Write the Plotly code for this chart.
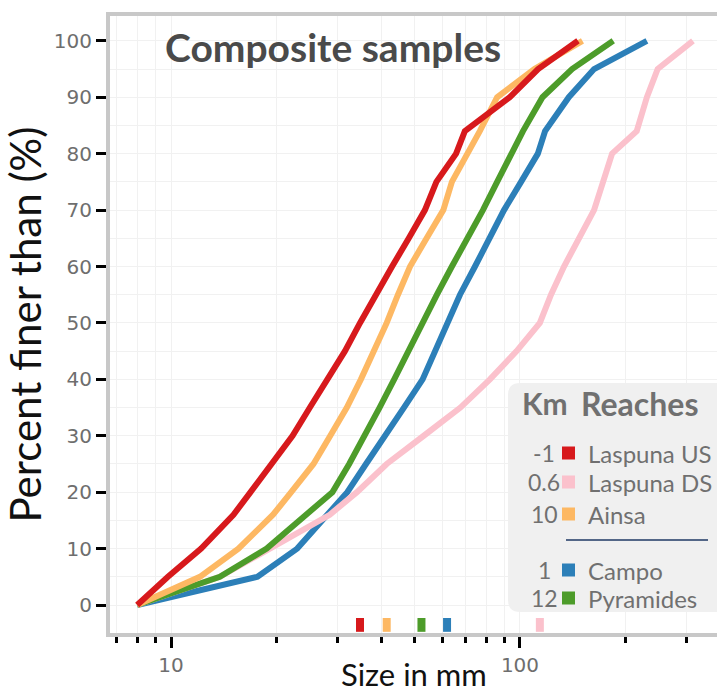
import plotly.graph_objects as go

# Cumulative grain-size curves (percent finer than) for the composite samples
percent = [0, 5, 10, 16, 20, 25, 30, 35, 40, 45, 50, 55, 60, 65, 70, 75, 80, 84, 90, 95, 100]

laspuna_us = [8, 9.8, 12.2, 15.1, 16.9, 19.4, 22.3, 25.0, 28.2, 31.5, 34.8, 38.5, 43.0,
              48.0, 53.4, 57.6, 65.6, 69.5, 93.5, 112.7, 146.6]
laspuna_ds = [8, 13.8, 19.2, 28.5, 34.1, 41.5, 53.0, 67.5, 82.0, 97.8, 114.0, 122.7, 133.7,
              147.5, 163.0, 173.0, 183.6, 216.0, 231.0, 248.0, 313.0]
ainsa = [8, 12.1, 15.6, 19.6, 22.1, 25.6, 28.6, 31.9, 35.0, 38.3, 41.5, 44.7, 48.4,
         54.0, 60.3, 63.8, 71.0, 76.7, 86.0, 110.0, 151.0]
campo = [8, 17.7, 23.0, 28.2, 32.0, 36.2, 40.8, 46.5, 52.6, 57.0, 61.8, 67.3, 74.3,
         81.5, 90.0, 100.7, 112.5, 118.0, 138.0, 163.0, 231.0]
pyramides = [8, 13.8, 18.8, 24.5, 29.0, 32.4, 36.0, 39.6, 43.6, 47.8, 52.2, 57.8, 63.8,
             71.0, 78.3, 86.0, 94.8, 102.0, 116.0, 141.0, 185.0]

reach_names = ["Laspuna US", "Laspuna DS", "Ainsa", "Campo", "Pyramides"]
reach_km = ["-1", "0.6", "10", "1", "12"]
reach_colors = ["#d7191c", "#fbc1cc", "#fdb863", "#2c7fb8", "#4d9c2a"]
reach_values = [laspuna_us, laspuna_ds, ainsa, campo, pyramides]

x_tick_vals = [10, 100]
x_tick_text = ["10", "100"]
x_minor_vals = [7, 8, 9, 20, 30, 40, 50, 60, 70, 80, 90, 200, 300]
y_tick_vals = [0, 10, 20, 30, 40, 50, 60, 70, 80, 90, 100]

W, H = 717, 695
L, R, T, B = 110, 0, 16, 62
PW, PH = W - L - R, H - T - B


def px(x):
    return (x - L) / PW


def py(y):
    return (H - B - y) / PH


fig = go.Figure()

# drawing order keeps red on top of orange, green on top of pink, pink on top of blue
draw_order = [3, 1, 4, 2, 0]
for i in draw_order:
    fig.add_trace(go.Scatter(
        x=reach_values[i], y=percent, mode="lines", name=reach_names[i],
        line=dict(color=reach_colors[i], width=6), showlegend=False,
    ))

# D50 rug marks along the bottom axis
for i in range(len(reach_names)):
    d50 = reach_values[i][percent.index(50)]
    fig.add_trace(go.Scatter(
        x=[d50, d50], y=[-4.75, -2.3], mode="lines",
        line=dict(color=reach_colors[i], width=8), showlegend=False, hoverinfo="skip",
    ))

tick_font = dict(family="DejaVu Sans", size=20, color="#6e6e6e")
grid_col = "#f1f1f1"

fig.update_layout(
    width=W, height=H,
    margin=dict(l=L, r=R, t=T, b=B, pad=0),
    paper_bgcolor="white", plot_bgcolor="white",
    showlegend=False,
    xaxis=dict(
        type="log", range=[0.8252, 2.5645], automargin=False,
        showline=True, linecolor="#c8c8c8", linewidth=4, mirror=True,
        ticks="outside", tickvals=x_tick_vals, ticktext=x_tick_text,
        ticklen=11, tickwidth=3, tickcolor="black",
        showgrid=True, gridcolor=grid_col, gridwidth=1,
        minor=dict(tickvals=x_minor_vals, ticks="outside", ticklen=6, tickwidth=3,
                   tickcolor="black", showgrid=True, gridcolor=grid_col),
        tickfont=tick_font, zeroline=False,
    ),
    yaxis=dict(
        range=[-4.96, 104.4], automargin=False,
        showline=True, linecolor="#c8c8c8", linewidth=4, mirror=False,
        ticks="outside", tickvals=y_tick_vals, ticklen=10, tickwidth=3, tickcolor="black",
        showgrid=True, gridcolor=grid_col, gridwidth=1,
        minor=dict(dtick=5, tick0=0, showgrid=True, gridcolor=grid_col, ticks=""),
        tickfont=tick_font, zeroline=False,
        title=dict(text="Percent finer than (%)",
                   font=dict(family="Lato", size=42, color="#111111"), standoff=0),
    ),
)

# x-axis title, sitting on the bottom edge of the figure
fig.add_annotation(
    x=0.5, y=py(694), xref="paper", yref="paper", xanchor="center", yanchor="bottom",
    text="Size in mm", showarrow=False, borderpad=0,
    font=dict(family="Lato", size=31, color="#111111"),
)

# chart heading
fig.add_annotation(
    x=px(163), y=py(47), xref="paper", yref="paper", xanchor="left", yanchor="middle",
    text="<b>Composite samples</b>", showarrow=False,
    font=dict(family="Lato", size=39, color="#4a4a4a"),
)

# legend panel
x0, x1, y0, y1, rr = 508, 730, 383, 612, 12
path = (f"M {px(x0 + rr)},{py(y0)} L {px(x1)},{py(y0)} L {px(x1)},{py(y1)} "
        f"L {px(x0 + rr)},{py(y1)} Q {px(x0)},{py(y1)} {px(x0)},{py(y1 - rr)} "
        f"L {px(x0)},{py(y0 + rr)} Q {px(x0)},{py(y0)} {px(x0 + rr)},{py(y0)} Z")
fig.add_shape(type="path", path=path, xref="paper", yref="paper",
              fillcolor="#f0f0f0", line=dict(width=0), layer="above")

legend_grey = "#707070"
fig.add_annotation(x=px(545), y=py(403), xref="paper", yref="paper", xanchor="center",
                   yanchor="middle", text="<b>Km</b>", showarrow=False,
                   font=dict(family="Lato", size=30, color=legend_grey))
fig.add_annotation(x=px(579), y=py(403), xref="paper", yref="paper", xanchor="left",
                   yanchor="middle", text="<b>Reaches</b>", showarrow=False,
                   font=dict(family="Lato", size=32, color=legend_grey))

row_y = [453, 482, 514, 570, 598]
for i in range(len(reach_names)):
    yy = row_y[i]
    fig.add_annotation(x=px(544), y=py(yy), xref="paper", yref="paper", xanchor="center",
                       yanchor="middle", text=reach_km[i], showarrow=False,
                       font=dict(family="Lato", size=23, color=legend_grey))
    fig.add_shape(type="rect", xref="paper", yref="paper",
                  x0=px(562), x1=px(575), y0=py(yy - 6.5), y1=py(yy + 6.5),
                  fillcolor=reach_colors[i], line=dict(width=0), layer="above")
    fig.add_annotation(x=px(586), y=py(yy), xref="paper", yref="paper", xanchor="left",
                       yanchor="middle", text=reach_names[i], showarrow=False,
                       font=dict(family="Lato", size=24, color=legend_grey))

fig.add_shape(type="line", xref="paper", yref="paper",
              x0=px(566), x1=px(708), y0=py(540), y1=py(540),
              line=dict(color="#1f3864", width=1.5), layer="above")

fig.write_html("out.html")
